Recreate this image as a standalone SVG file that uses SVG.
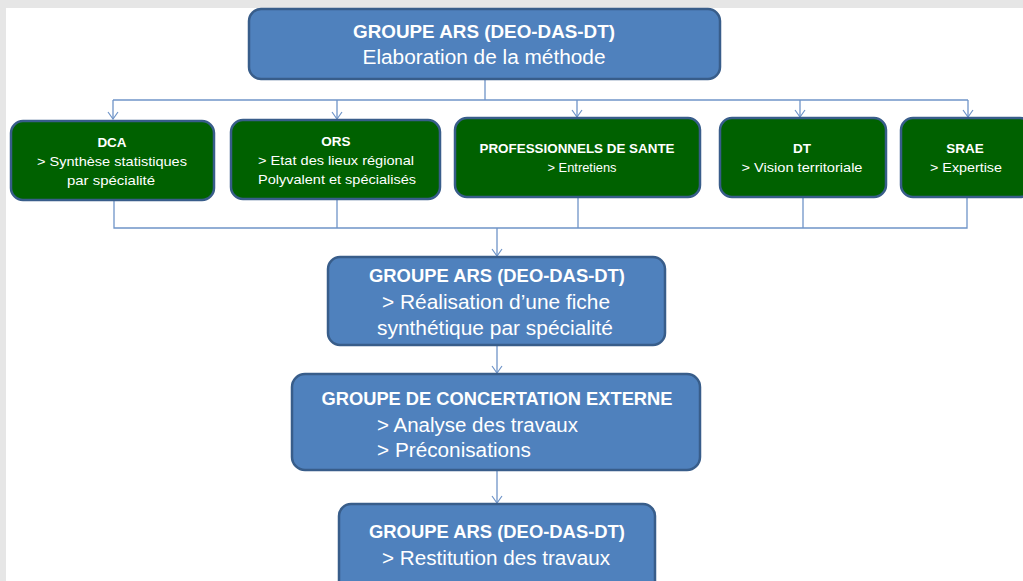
<svg xmlns="http://www.w3.org/2000/svg" width="1023" height="581" viewBox="0 0 1023 581">
<defs>
<marker id="arr" markerWidth="12" markerHeight="12" refX="10" refY="6" orient="auto" markerUnits="userSpaceOnUse" viewBox="0 0 12 12">
<path d="M3,1 L10,6 L3,11" fill="none" stroke="#6f94c8" stroke-width="1.2"/>
</marker>
</defs>
<style>
.blue{fill:#4f81bd;stroke:#385d8a;stroke-width:2.5}
.green{fill:#006100;stroke:#385d8a;stroke-width:2.5}
.t{font-family:"Liberation Sans",Arial,sans-serif;fill:#fff;text-anchor:middle}
.bt{font-size:20px}
.bh{font-size:18.5px;font-weight:bold}
.s{text-anchor:start}
.g{font-family:"Liberation Sans",Arial,sans-serif;fill:#fff;text-anchor:middle;font-size:13.5px}
.gh{font-weight:bold}
.c{fill:none;stroke:#6f94c8;stroke-width:1.3}
</style>
<rect x="0" y="0" width="1023" height="581" fill="#e6e6e6"/>
<rect x="6" y="8" width="1017" height="573" fill="#fff"/>
<g id="connectors">
<path class="c" d="M485,79 V100"/>
<path class="c" d="M113,100 H968"/>
<path class="c" d="M113,100 V119" marker-end="url(#arr)"/>
<path class="c" d="M337,100 V119" marker-end="url(#arr)"/>
<path class="c" d="M577,100 V117" marker-end="url(#arr)"/>
<path class="c" d="M800,100 V117" marker-end="url(#arr)"/>
<path class="c" d="M968,100 V117" marker-end="url(#arr)"/>
<path class="c" d="M114,200 V228 H967 V197"/>
<path class="c" d="M337,199 V228"/>
<path class="c" d="M578,197 V228"/>
<path class="c" d="M803,197 V228"/>
<path class="c" d="M497,228 V256" marker-end="url(#arr)"/>
<path class="c" d="M497,345 V373" marker-end="url(#arr)"/>
<path class="c" d="M497,470 V503" marker-end="url(#arr)"/>
</g>
<g id="n-top">
<rect class="blue" x="249" y="9" width="471" height="70" rx="12"/>
<text class="t bh" x="484" y="38" textLength="262" lengthAdjust="spacingAndGlyphs">GROUPE  ARS (DEO-DAS-DT)</text>
<text class="t bt" x="484" y="64" textLength="243" lengthAdjust="spacingAndGlyphs">Elaboration de la méthode</text>
</g>
<g id="n-dca">
<rect class="green" x="11" y="121" width="203" height="79" rx="12"/>
<text class="g gh" x="112" y="147">DCA</text>
<text class="g" x="112" y="166" textLength="150" lengthAdjust="spacingAndGlyphs">&gt; Synthèse statistiques</text>
<text class="g" x="111" y="185" textLength="88" lengthAdjust="spacingAndGlyphs">par spécialité</text>
</g>
<g id="n-ors">
<rect class="green" x="231" y="120" width="209" height="79" rx="12"/>
<text class="g gh" x="336" y="146">ORS</text>
<text class="g" x="336" y="165" textLength="156" lengthAdjust="spacingAndGlyphs">&gt; Etat des lieux régional</text>
<text class="g" x="337" y="184" textLength="158" lengthAdjust="spacingAndGlyphs">Polyvalent et spécialisés</text>
</g>
<g id="n-pro">
<rect class="green" x="455" y="118" width="245" height="79" rx="12"/>
<text class="g gh" x="577" y="153" textLength="195" lengthAdjust="spacingAndGlyphs">PROFESSIONNELS DE SANTE</text>
<text class="g" x="582" y="172" textLength="69" lengthAdjust="spacingAndGlyphs">&gt; Entretiens</text>
</g>
<g id="n-dt">
<rect class="green" x="720" y="118" width="166" height="79" rx="12"/>
<text class="g gh" x="802" y="153">DT</text>
<text class="g" x="802" y="172" textLength="121" lengthAdjust="spacingAndGlyphs">&gt; Vision territoriale</text>
</g>
<g id="n-srae">
<rect class="green" x="901" y="118" width="131" height="79" rx="12"/>
<text class="g gh" x="965" y="153">SRAE</text>
<text class="g" x="966" y="172" textLength="72" lengthAdjust="spacingAndGlyphs">&gt; Expertise</text>
</g>
<g id="n-fiche">
<rect class="blue" x="328" y="257" width="337" height="88" rx="12"/>
<text class="t bh" x="497" y="282" textLength="256" lengthAdjust="spacingAndGlyphs">GROUPE ARS (DEO-DAS-DT)</text>
<text class="t bt" x="496" y="309" textLength="228" lengthAdjust="spacingAndGlyphs">&gt; Réalisation d’une fiche</text>
<text class="t bt" x="495" y="335" textLength="236" lengthAdjust="spacingAndGlyphs">synthétique par spécialité</text>
</g>
<g id="n-concert">
<rect class="blue" x="292" y="374" width="408" height="96" rx="13"/>
<text class="t bh" x="497" y="405" textLength="351" lengthAdjust="spacingAndGlyphs">GROUPE DE CONCERTATION EXTERNE</text>
<text class="t bt s" x="377" y="432" textLength="201" lengthAdjust="spacingAndGlyphs">&gt; Analyse des travaux</text>
<text class="t bt s" x="377" y="457" textLength="154" lengthAdjust="spacingAndGlyphs">&gt; Préconisations</text>
</g>
<g id="n-restit">
<rect class="blue" x="339" y="504" width="316" height="90" rx="12"/>
<text class="t bh" x="497" y="538" textLength="256" lengthAdjust="spacingAndGlyphs">GROUPE ARS (DEO-DAS-DT)</text>
<text class="t bt" x="496" y="565" textLength="228" lengthAdjust="spacingAndGlyphs">&gt; Restitution des travaux</text>
</g>
</svg>
